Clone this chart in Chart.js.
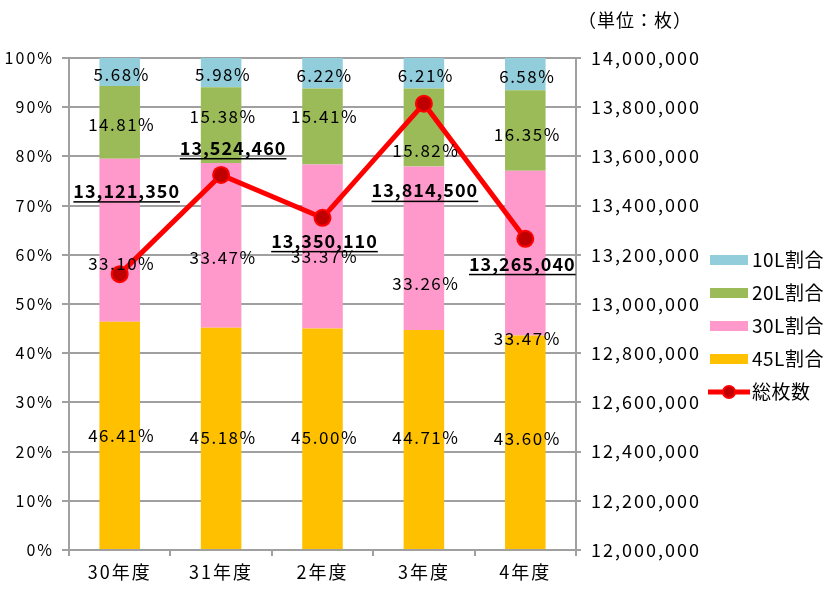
<!DOCTYPE html>
<html>
<head>
<meta charset="utf-8">
<script src="https://cdn.jsdelivr.net/npm/chart.js@4/dist/chart.umd.min.js"></script>
<style>
  body { margin: 0; background: #fff; }
  #wrap { width: 830px; height: 589px; }
</style>
</head>
<body>
<div id="wrap"><canvas id="chart" width="830" height="589"></canvas></div>
<script>
// data
const years = ['30年度', '31年度', '2年度', '3年度', '4年度'];
const share45 = [46.41, 45.18, 45.00, 44.71, 43.60];
const share30 = [33.10, 33.47, 33.37, 33.26, 33.47];
const share20 = [14.81, 15.38, 15.41, 15.82, 16.35];
const share10 = [5.68, 5.98, 6.22, 6.21, 6.58];
const totalSheets = [13121350, 13524460, 13350110, 13814500, 13265040];

const FONT = '"Noto Sans CJK JP", "Noto Sans", sans-serif';
const gridColor = '#a0a0a0';

// label nudges (pixels) so the text sits like the original
const pctOffsets = [
    [0, -1, -1, -2, -4],     // 45L
    [23, 12, 10, 35, 85],    // 30L
    [2, -9, -10, 23, 4],     // 20L
    [3, 2, 2, 2, 2]          // 10L
];
const totalOffsets = [[7, -83], [12, -27], [2, 23], [1, 87], [-3, 25]];

function fmt(n) {
    return n.toString().replace(/\B(?=(\d{3})+(?!\d))/g, ',');
}

const labelPlugin = {
    id: 'labels',
    beforeDraw(chart) {
        // the original uses a wide gothic face, so spread the letters a bit
        chart.ctx.letterSpacing = '2px';
    },
    afterDatasetsDraw(chart) {
        const ctx = chart.ctx;
        ctx.save();
        ctx.textAlign = 'center';
        ctx.textBaseline = 'middle';
        ctx.fillStyle = '#000';
        ctx.font = '17px ' + FONT;
        ctx.letterSpacing = '1.5px';
        // percentage labels
        for (let d = 0; d < 4; d++) {
            const meta = chart.getDatasetMeta(d + 1);
            const ds = chart.data.datasets[d + 1];
            meta.data.forEach((bar, i) => {
                const cy = (bar.y + bar.base) / 2 + pctOffsets[d][i];
                ctx.fillText(ds.data[i].toFixed(2) + '%', bar.x + 2, cy);
            });
        }
        // total labels, bold + underlined
        const lineMeta = chart.getDatasetMeta(0);
        ctx.font = 'bold 18px ' + FONT;
        ctx.letterSpacing = '1px';
        lineMeta.data.forEach((pt, i) => {
            const txt = fmt(totalSheets[i]);
            const x = pt.x + totalOffsets[i][0];
            const y = pt.y + totalOffsets[i][1];
            ctx.fillText(txt, x, y);
            const w = ctx.measureText(txt).width;
            ctx.fillRect(x - w / 2, y + 10, w, 1.5);
        });
        ctx.restore();
    },
    afterDraw(chart) {
        const ctx = chart.ctx;
        ctx.save();
        ctx.fillStyle = '#000';
        ctx.textBaseline = 'middle';
        ctx.textAlign = 'left';
        ctx.letterSpacing = '1px';
        ctx.font = '18px ' + FONT;
        ctx.fillText('（単位：枚）', 578, 20);

        // legend
        const items = [
            { text: '10L割合', color: '#92cddc' },
            { text: '20L割合', color: '#9bbb59' },
            { text: '30L割合', color: '#ff99cc' },
            { text: '45L割合', color: '#ffc000' }
        ];
        ctx.font = '19px ' + FONT;
        ctx.letterSpacing = '0.5px';
        let y = 260;
        items.forEach(it => {
            ctx.fillStyle = it.color;
            ctx.fillRect(710, y - 5, 38, 10);
            ctx.fillStyle = '#000';
            ctx.fillText(it.text, 752, y);
            y += 33;
        });
        ctx.strokeStyle = '#ff0000';
        ctx.lineWidth = 5;
        ctx.beginPath();
        ctx.moveTo(708, y);
        ctx.lineTo(750, y);
        ctx.stroke();
        ctx.beginPath();
        ctx.arc(729, y, 6, 0, Math.PI * 2);
        ctx.fillStyle = '#c00000';
        ctx.fill();
        ctx.lineWidth = 2;
        ctx.stroke();
        ctx.fillStyle = '#000';
        ctx.fillText('総枚数', 752, y);
        ctx.restore();
        ctx.letterSpacing = '0px';
    }
};

new Chart(document.getElementById('chart'), {
    type: 'bar',
    data: {
        labels: years,
        datasets: [
            {
                type: 'line',
                label: '総枚数',
                data: totalSheets,
                yAxisID: 'y1',
                borderColor: '#ff0000',
                borderWidth: 5,
                pointRadius: 8,
                pointBackgroundColor: '#c00000',
                pointBorderColor: '#ff0000',
                pointBorderWidth: 2,
                order: 0
            },
            { label: '45L割合', data: share45, backgroundColor: '#ffc000', order: 1 },
            { label: '30L割合', data: share30, backgroundColor: '#ff99cc', order: 1 },
            { label: '20L割合', data: share20, backgroundColor: '#9bbb59', order: 1 },
            { label: '10L割合', data: share10, backgroundColor: '#92cddc', order: 1 }
        ]
    },
    options: {
        responsive: false,
        animation: false,
        layout: { padding: { top: 58, left: 0, right: 0, bottom: 0 } },
        datasets: {
            bar: { categoryPercentage: 1, barPercentage: 0.4 }
        },
        scales: {
            x: {
                stacked: true,
                afterFit: s => { s.height = 39; },
                grid: { drawOnChartArea: false, color: gridColor, lineWidth: 2, tickLength: 6, offset: true },
                border: { color: gridColor, width: 2 },
                ticks: { color: '#000', font: { family: FONT, size: 18 }, padding: 5 }
            },
            y: {
                stacked: true,
                min: 0,
                max: 100,
                afterFit: s => { s.width = 69; },
                grid: { color: gridColor, lineWidth: 2, tickLength: 7 },
                border: { color: gridColor, width: 2 },
                ticks: {
                    stepSize: 10,
                    color: '#000',
                    padding: 8,
                    font: { family: FONT, size: 16 },
                    callback: v => v + '%'
                }
            },
            y1: {
                position: 'right',
                min: 12000000,
                max: 14000000,
                afterFit: s => { s.width = 254; },
                grid: { drawOnChartArea: false, color: gridColor, lineWidth: 2, tickLength: 5 },
                border: { color: gridColor, width: 2 },
                ticks: {
                    stepSize: 200000,
                    color: '#000',
                    padding: 10,
                    font: { family: FONT, size: 18 },
                    callback: v => fmt(v)
                }
            }
        },
        plugins: {
            legend: { display: false },
            tooltip: { enabled: false }
        }
    },
    plugins: [labelPlugin]
});
</script>
</body>
</html>
